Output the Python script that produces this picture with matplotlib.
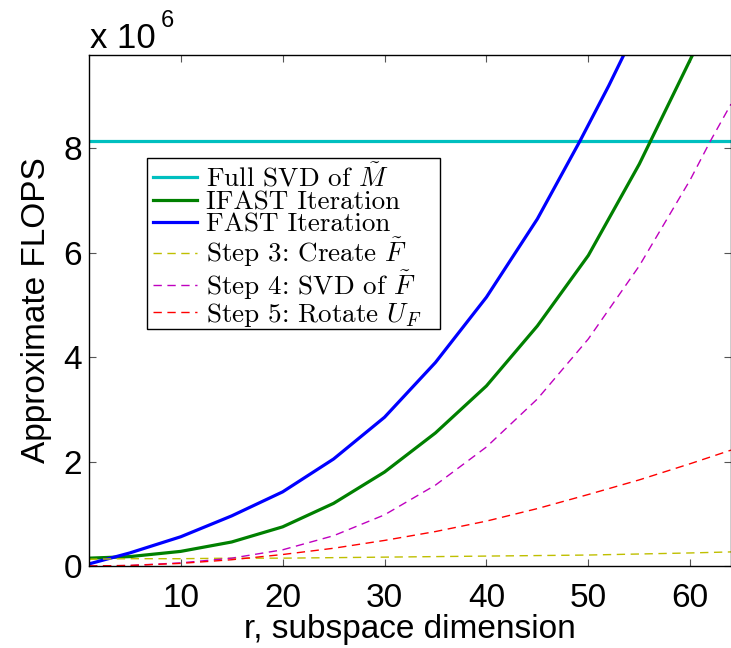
import numpy as np
import matplotlib
matplotlib.use("Agg")
import matplotlib.pyplot as plt
from matplotlib.patches import Rectangle

# values, in units of 1e6 flops
r_full = [1, 64]
full_svd = [8.15, 8.15]

r_fast = [1, 5, 10, 15, 20, 25, 30, 35, 40, 45, 49.2, 52, 54]
fast = [0.04, 0.25, 0.56, 0.96, 1.42, 2.05, 2.85, 3.90, 5.15, 6.65, 8.15, 9.20, 10.0]

r_ifast = [1, 5, 10, 15, 20, 25, 30, 35, 40, 45, 50, 55, 60, 61]
ifast = [0.15, 0.18, 0.28, 0.46, 0.75, 1.20, 1.80, 2.55, 3.45, 4.60, 5.95, 7.70, 9.70, 10.1]

r_step = [1, 5, 10, 15, 20, 25, 30, 35, 40, 45, 50, 55, 60, 62, 64]
step3 = [0.13, 0.14, 0.14, 0.15, 0.15, 0.16, 0.17, 0.18, 0.19, 0.20, 0.21, 0.23, 0.25, 0.26, 0.27]
step4 = [0.0, 0.01, 0.06, 0.15, 0.31, 0.58, 0.98, 1.55, 2.28, 3.20, 4.35, 5.75, 7.40, 8.15, 8.85]
step5 = [0.0, 0.01, 0.05, 0.12, 0.22, 0.34, 0.49, 0.66, 0.86, 1.10, 1.37, 1.65, 1.96, 2.09, 2.22]

labels = [r"Full SVD of $\tilde{M}$", "IFAST Iteration", "FAST Iteration",
          r"Step 3: Create $\tilde{F}$", r"Step 4: SVD of $\tilde{F}$",
          r"Step 5: Rotate $U_F$"]

plt.rcParams['font.family'] = ['Liberation Sans', 'DejaVu Sans']
plt.rcParams['mathtext.fontset'] = 'cm'

W, H = 731, 648
fig = plt.figure(figsize=(W/100, H/100), dpi=100)
ax = fig.add_axes([89/W, 82/H, 642/W, 511/H])

ax.plot(r_full, full_svd, color='#00BFBF', lw=2.3, label=labels[0])
ax.plot(r_ifast, ifast, color='#008000', lw=2.3, label=labels[1])
ax.plot(r_fast, fast, color='#0000FF', lw=2.3, label=labels[2])
ax.plot(r_step, step3, color='#BFBF00', lw=1.0, dashes=(6, 4), label=labels[3])
ax.plot(r_step, step4, color='#BF00BF', lw=1.0, dashes=(6, 4), label=labels[4])
ax.plot(r_step, step5, color='#FF0000', lw=1.0, dashes=(6, 4), label=labels[5])

ax.set_xlim(1, 64)
ax.set_ylim(0, 9.79)
ax.set_xticks([10, 20, 30, 40, 50, 60])
ax.set_yticks([0, 2, 4, 6, 8])
ax.tick_params(direction='in', length=5, width=0.8, labelsize=24,
               top=True, right=True, color='#555555')
ax.tick_params(axis='x', pad=12)
ax.tick_params(axis='y', pad=5)
for s in ax.spines.values():
    s.set_linewidth(1.0)

ax.set_xlabel("r, subspace dimension", fontsize=24, labelpad=0)
ax.set_ylabel("Approximate FLOPS", fontsize=24, labelpad=8)

fig.text(90/W, 1 - 48/H, "x 10", fontsize=25, va='baseline')
fig.text(161/W, 1 - 27/H, "6", fontsize=17, va='baseline')

leg = ax.legend(loc='upper left', bbox_to_anchor=((150-89)/642, (566-160)/511),
                borderaxespad=0, frameon=False,
                prop={'family': 'cmr10', 'size': 19.5}, labelspacing=-0.04,
                handlelength=1.65, handletextpad=0.3, borderpad=0.1)
leg.set_zorder(6)

# legend box, with the wide right margin of the original
ax.add_patch(Rectangle(((147-89)/642, (566-329)/511), 293/642, 171/511,
                       transform=ax.transAxes, facecolor='white', edgecolor='black',
                       lw=1.0, zorder=4))

fig.savefig("out.png", dpi=100)
